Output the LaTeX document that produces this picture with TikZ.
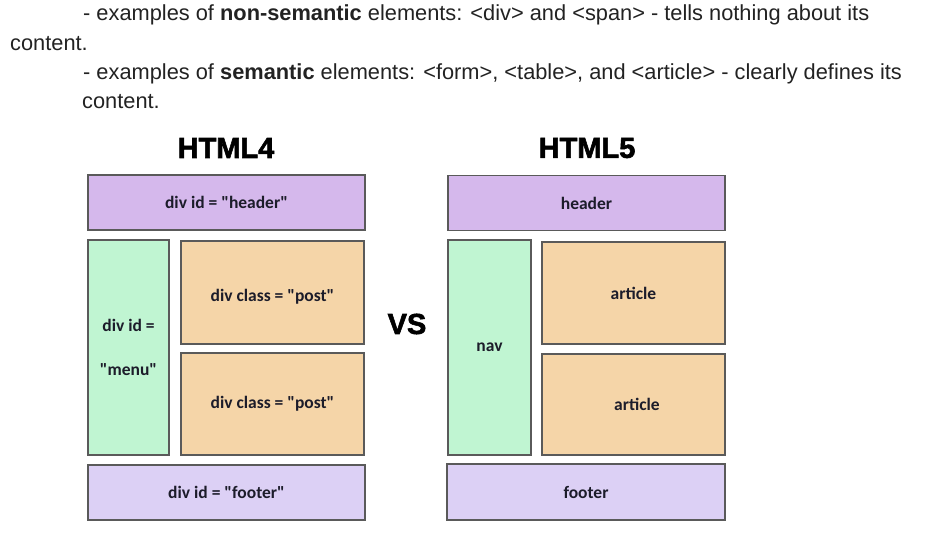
\documentclass[tikz,border=0pt]{standalone}
\usepackage{fontspec}
\setmainfont{Liberation Sans}
\newfontfamily\boxfont{Carlito}
\newfontfamily\titlefont[FakeBold=2]{Liberation Sans Bold}
\usetikzlibrary{positioning}
\definecolor{headcol}{HTML}{D5B8EC}
\definecolor{footcol}{HTML}{DCD0F5}
\definecolor{navcol}{HTML}{C0F5D2}
\definecolor{postcol}{HTML}{F5D5A8}
\definecolor{edgecol}{HTML}{5A5A5A}
\definecolor{labelcol}{HTML}{1C1C2A}
\definecolor{textcol}{HTML}{222222}

\begin{document}
\begin{tikzpicture}[x=1pt,y=-1pt,
  box/.style={draw=edgecol,line width=1.4pt,inner sep=0pt,text=labelcol,
    font=\boxfont\bfseries\fontsize{17.5}{21}\selectfont},
  para/.style={anchor=west,inner sep=0pt,text=textcol,font=\fontsize{21.8}{26}\selectfont},
  heading/.style={font=\titlefont\fontsize{29}{32}\selectfont}]
\useasboundingbox (0,0) rectangle (927,549);
% text above the picture
\node[para] (l1) at (83,15) {- examples of \textbf{non-semantic} elements: <div> and <span> - tells nothing about its};
\node[para] (l2) at (10,44) {content.};
\node[para] (l3) at (83,74) {- examples of \textbf{semantic} elements: <form>, <table>, and <article> - clearly defines its};
\node[para] (l4) at (82,102) {content.};
% HTML4 side
\node[heading] (t4) at (226,148) {HTML4};
\node[box,fill=headcol,minimum width=277pt,minimum height=55pt] (head4) at (226.5,202.5) {div id = "header"};
\node[box,fill=navcol,minimum width=81pt,minimum height=215pt,align=center] (menu4) at (128.5,347.5) {div id =\\[23pt]"menu"};
\node[box,fill=postcol,minimum width=183pt,minimum height=103pt,text height=21pt,text depth=4pt] (post4a) at (272.5,292.5) {div class = "post"};
\node[box,fill=postcol,minimum width=183pt,minimum height=102pt] (post4b) at (272.5,404) {div class = "post"};
\node[box,fill=footcol,minimum width=277pt,minimum height=55pt] (foot4) at (226.5,492.5) {div id = "footer"};
% vs
\node[heading] (vs) at (407,324) {VS};
% HTML5 side
\node[heading] (t5) at (587,148) {HTML5};
\node[box,fill=headcol,minimum width=277pt,minimum height=55pt] (head5) at (586.5,203) {header};
\node[box,fill=navcol,minimum width=83pt,minimum height=215pt] (nav5) at (489.5,347.5) {nav};
\node[box,fill=postcol,minimum width=183pt,minimum height=102pt] (art5a) at (633.5,293) {article};
\node[box,fill=postcol,minimum width=183pt,minimum height=101pt] (art5b) at (633.5,404.5) {\hspace*{7pt}article};
\node[box,fill=footcol,minimum width=278pt,minimum height=56pt] (foot5) at (586,492) {footer};
\end{tikzpicture}
\end{document}
